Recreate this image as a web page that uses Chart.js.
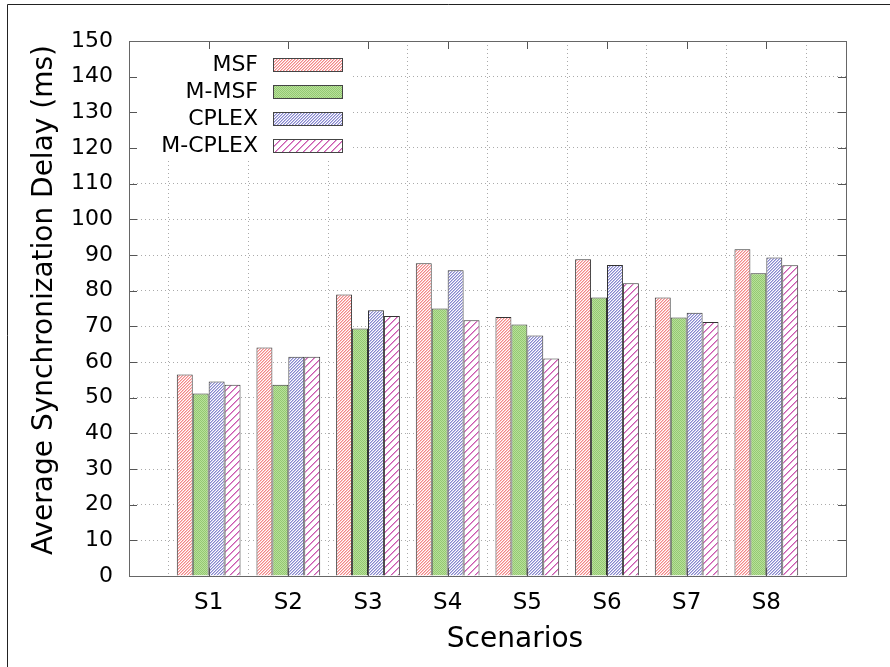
<!DOCTYPE html>
<html>
<head>
<meta charset="utf-8">
<script src="https://cdn.jsdelivr.net/npm/chart.js@4.4.1/dist/chart.umd.min.js"></script>
<style>
  html, body { margin: 0; padding: 0; background: #fff; }
  #wrap { width: 890px; height: 667px; position: relative; }
</style>
</head>
<body>
<div id="wrap"><canvas id="chart-delay"></canvas></div>
<script>
// values
var scenarios = ['S1', 'S2', 'S3', 'S4', 'S5', 'S6', 'S7', 'S8'];
var msf     = [56.5, 64.1, 78.9, 87.7, 72.6, 88.8, 78.1, 91.6];
var mMsf    = [51.2, 53.6, 69.4, 75.0, 70.5, 78.1, 72.5, 84.9];
var cplex   = [54.5, 61.5, 74.5, 85.7, 67.4, 87.2, 73.8, 89.3];
var mCplex  = [53.6, 61.5, 72.9, 71.7, 61.0, 82.1, 71.2, 87.1];
var seriesNames = ['MSF', 'M-MSF', 'CPLEX', 'M-CPLEX'];
var yTicks = [0, 10, 20, 30, 40, 50, 60, 70, 80, 90, 100, 110, 120, 130, 140, 150];
var xTitle = 'Scenarios';
var yTitle = 'Average Synchronization Delay (ms)';

var FONT = "'DejaVu Sans', sans-serif";

// "/" hatch drawn pixel by pixel so the colour stays crisp
var hatch = function(size, color, soft) {
  var c = document.createElement('canvas');
  c.width = size; c.height = size;
  var g = c.getContext('2d');
  g.fillStyle = '#fff';
  g.fillRect(0, 0, size, size);
  for (var x = 0; x < size; x++) {
    var y = size - 1 - x;
    g.fillStyle = color;
    g.fillRect(x, y, 1, 1);
    if (soft) {
      g.fillStyle = soft;
      g.fillRect(x, (y + 1) % size, 1, 1);
    }
  }
  return g.createPattern(c, 'repeat');
};

// fine checker tile for the green series
var dots = function() {
  var c = document.createElement('canvas');
  c.width = 2; c.height = 2;
  var g = c.getContext('2d');
  g.fillStyle = '#b8e09a';
  g.fillRect(0, 0, 2, 2);
  g.fillStyle = '#94c972';
  g.fillRect(0, 0, 1, 1);
  g.fillRect(1, 1, 1, 1);
  return g.createPattern(c, 'repeat');
};

var fills = [
  hatch(3, 'rgb(242,135,135)', 'rgb(250,195,195)'),
  dots(),
  hatch(3, 'rgb(135,135,205)', 'rgb(192,192,232)'),
  hatch(7, 'rgb(200,90,175)', 'rgb(228,155,210)')
];

// padded so categories sit at 1..8 on a 0..9 axis like the original
var labels = [''].concat(scenarios).concat(['']);
var pad = function(arr) { return [null].concat(arr).concat([null]); };

var legendBox = { x0: 129, y0: 41, x1: 352, y1: 160 };

var gnuplotLook = {
  id: 'gnuplotLook',
  beforeDatasetsDraw: function(chart) {
    // opaque key box hides the grid
    var ctx = chart.ctx;
    ctx.save();
    ctx.fillStyle = '#fff';
    ctx.fillRect(legendBox.x0 + 1, legendBox.y0 + 1, legendBox.x1 - legendBox.x0, legendBox.y1 - legendBox.y0);
    ctx.restore();
  },
  afterDraw: function(chart) {
    var ctx = chart.ctx;
    var a = chart.chartArea;
    var xs = chart.scales.x, ys = chart.scales.y;
    ctx.save();
    ctx.strokeStyle = '#555';
    ctx.lineWidth = 1;
    ctx.beginPath();
    // inward ticks, mirrored
    yTicks.forEach(function(v) {
      var py = Math.round(ys.getPixelForValue(v)) + 0.5;
      ctx.moveTo(a.left, py); ctx.lineTo(a.left + 8, py);
      ctx.moveTo(a.right, py); ctx.lineTo(a.right - 8, py);
    });
    scenarios.forEach(function(s, i) {
      var px = Math.round(xs.getPixelForValue(i + 1)) + 0.5;
      ctx.moveTo(px, a.bottom); ctx.lineTo(px, a.bottom - 8);
      ctx.moveTo(px, a.top); ctx.lineTo(px, a.top + 8);
    });
    ctx.stroke();
    // plot border
    ctx.strokeStyle = '#666';
    ctx.strokeRect(Math.round(a.left) + 0.5, Math.round(a.top) + 0.5, Math.round(a.right - a.left), Math.round(a.bottom - a.top));
    // picture frame (top and left only)
    ctx.strokeStyle = '#222';
    ctx.beginPath();
    ctx.moveTo(7.5, 667); ctx.lineTo(7.5, 4.5); ctx.lineTo(890, 4.5);
    ctx.stroke();
    // axis titles
    ctx.fillStyle = '#000';
    ctx.font = '28px ' + FONT;
    ctx.textAlign = 'center';
    ctx.textBaseline = 'middle';
    ctx.fillText(xTitle, 515, 640);
    ctx.save();
    ctx.translate(45, 300);
    ctx.rotate(-Math.PI / 2);
    ctx.fillText(yTitle, 0, 0);
    ctx.restore();
    // key
    ctx.font = '22px ' + FONT;
    ctx.textAlign = 'right';
    chart.data.datasets.forEach(function(ds, i) {
      var cy = 65 + i * 27;
      ctx.fillStyle = '#000';
      ctx.fillText(ds.label, 258, cy);
      ctx.fillStyle = ds.backgroundColor;
      ctx.fillRect(273, cy - 6, 69, 13);
      ctx.strokeStyle = '#444';
      ctx.strokeRect(273.5, cy - 6.5, 69, 13);
    });
    ctx.restore();
  }
};

var makeSet = function(name, values, i) {
  return {
    label: name,
    data: pad(values),
    backgroundColor: fills[i],
    borderColor: '#333',
    borderWidth: 1,
    borderSkipped: 'bottom',
    categoryPercentage: 0.8,
    barPercentage: 1.0
  };
};

var ctx = document.getElementById('chart-delay').getContext('2d');
window.delayChart = new Chart(ctx, {
  type: 'bar',
  data: {
    labels: labels,
    datasets: [
      makeSet(seriesNames[0], msf, 0),
      makeSet(seriesNames[1], mMsf, 1),
      makeSet(seriesNames[2], cplex, 2),
      makeSet(seriesNames[3], mCplex, 3)
    ]
  },
  options: {
    responsive: true,
    maintainAspectRatio: false,
    animation: false,
    devicePixelRatio: 1,
    layout: { padding: { left: 0, top: 41, right: 44, bottom: 0 } },
    plugins: {
      legend: { display: false },
      tooltip: { enabled: false }
    },
    scales: {
      x: {
        offset: false,
        grid: {
          color: '#aaa',
          lineWidth: 1,
          drawTicks: false
        },
        border: { display: false, dash: [1, 3] },
        ticks: {
          color: '#000',
          padding: 13,
          maxRotation: 0,
          autoSkip: false,
          font: { family: FONT, size: 23 }
        },
        afterFit: function(scale) { scale.height = 91; }
      },
      y: {
        min: 0,
        max: 150,
        grid: {
          color: '#aaa',
          lineWidth: 1,
          drawTicks: false
        },
        border: { display: false, dash: [1, 3] },
        ticks: {
          stepSize: 10,
          color: '#000',
          padding: 16,
          font: { family: FONT, size: 22 }
        },
        afterFit: function(scale) { scale.width = 129; }
      }
    }
  },
  plugins: [gnuplotLook]
});
</script>
</body>
</html>
